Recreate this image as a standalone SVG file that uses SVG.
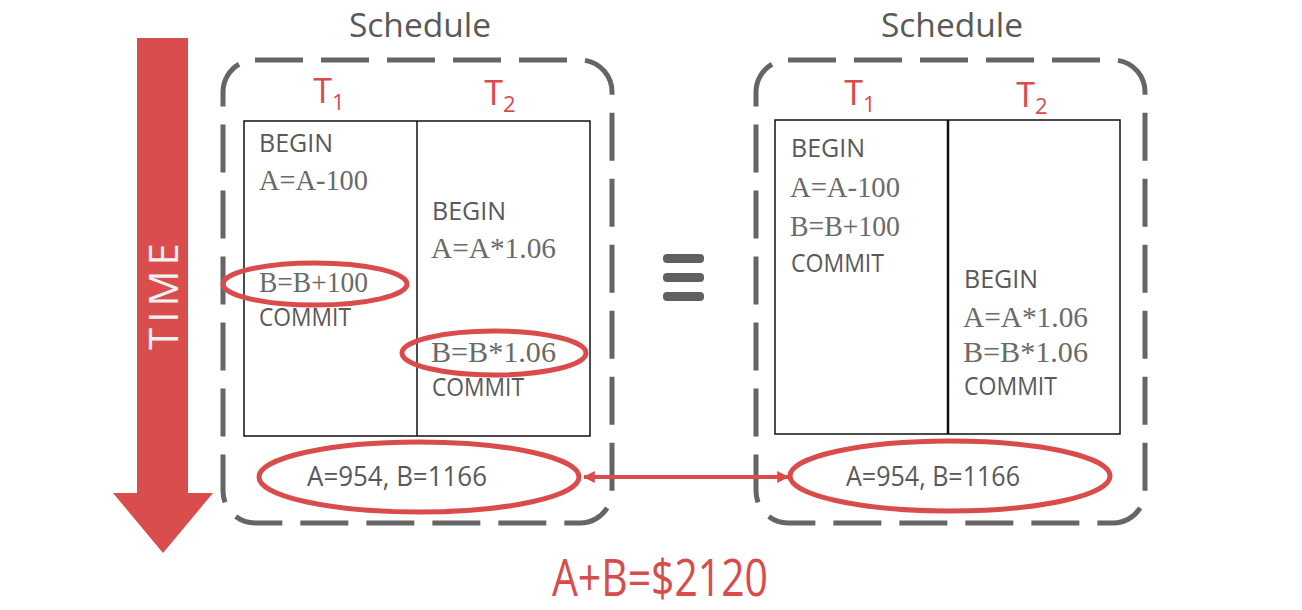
<svg xmlns="http://www.w3.org/2000/svg" width="1302" height="610" viewBox="0 0 1302 610">
<defs>
<style>
.sched{fill:none;stroke:#656565;stroke-width:5;stroke-dasharray:48 18}
.tbl{fill:#fff;stroke:#111;stroke-width:1.5}
.div{stroke:#111;stroke-width:1.5}
.title{font-family:"Open Sans","Noto Sans",sans-serif;font-size:33.5px;fill:#595959;text-anchor:middle}
.tl{font-family:"Open Sans","Noto Sans",sans-serif;font-size:34px;fill:#dc4a49;text-anchor:middle}
.sub{font-size:22px}
.kw{font-family:"Open Sans","Noto Sans",sans-serif;font-size:25px;fill:#595959}
.op{font-family:"Liberation Serif","Times New Roman",serif;font-size:29px;fill:#6a6a6a}
.res{font-family:"Open Sans","Noto Sans",sans-serif;font-size:27px;fill:#595959}
.ring{fill:none;stroke:#d94c4b;stroke-width:5}
</style>
<marker id="ah" viewBox="0 0 10 10" refX="9" refY="5" markerWidth="3" markerHeight="3.4" orient="auto-start-reverse" markerUnits="strokeWidth">
<path d="M0,0 L10,5 L0,10 Z" fill="#d94c4b"/>
</marker>
</defs>
<rect width="1302" height="610" fill="#fff"/>

<g id="time-arrow">
<path d="M137,38 H188 V493 H213 L163,553 L113,493 H137 Z" fill="#d94e4c"/>
<text transform="translate(178,294) rotate(-90)" text-anchor="middle" font-family="Open Sans, Noto Sans, sans-serif" font-size="40" letter-spacing="5" fill="#f2f2f2">TIME</text>
</g>

<g id="schedule-left">
<text class="title" x="420" y="37">Schedule</text>
<rect class="sched" x="223" y="60" width="389" height="463" rx="32"/>
<text class="tl" x="329" y="103">T<tspan class="sub" dy="7">1</tspan></text>
<text class="tl" x="500" y="105">T<tspan class="sub" dy="7">2</tspan></text>
<rect class="tbl" x="244" y="121" width="346" height="315"/>
<line class="div" x1="417" y1="121" x2="417" y2="436"/>
<text class="kw" x="259" y="152">BEGIN</text>
<text class="op" x="259" y="190" textLength="109" lengthAdjust="spacingAndGlyphs">A=A-100</text>
<text class="op" x="259" y="292" textLength="109" lengthAdjust="spacingAndGlyphs">B=B+100</text>
<text class="kw" x="259" y="326" textLength="92" lengthAdjust="spacingAndGlyphs">COMMIT</text>
<text class="kw" x="432" y="220">BEGIN</text>
<text class="op" x="431" y="258" textLength="125" lengthAdjust="spacingAndGlyphs">A=A*1.06</text>
<text class="op" x="431" y="362" textLength="125" lengthAdjust="spacingAndGlyphs">B=B*1.06</text>
<text class="kw" x="432" y="396" textLength="92" lengthAdjust="spacingAndGlyphs">COMMIT</text>
<ellipse class="ring" cx="315" cy="284" rx="92" ry="21"/>
<ellipse class="ring" cx="494" cy="353" rx="92" ry="22"/>
<ellipse class="ring" cx="419" cy="477" rx="160" ry="35"/>
<text class="res" x="397" y="486" text-anchor="middle" textLength="180" lengthAdjust="spacingAndGlyphs">A=954, B=1166</text>
</g>

<g id="equivalent">
<rect x="663" y="254" width="41" height="9" rx="4" fill="#606060"/>
<rect x="663" y="273" width="41" height="9" rx="4" fill="#606060"/>
<rect x="663" y="292" width="41" height="9" rx="4" fill="#606060"/>
</g>

<g id="schedule-right">
<text class="title" x="952" y="37">Schedule</text>
<rect class="sched" x="756" y="60" width="389" height="463" rx="32"/>
<text class="tl" x="860" y="105">T<tspan class="sub" dy="7">1</tspan></text>
<text class="tl" x="1032" y="107">T<tspan class="sub" dy="7">2</tspan></text>
<rect class="tbl" x="775" y="120" width="345" height="314"/>
<line x1="948" y1="120" x2="948" y2="434" stroke="#111" stroke-width="2.5"/>
<text class="kw" x="791" y="157">BEGIN</text>
<text class="op" x="790" y="197" textLength="110" lengthAdjust="spacingAndGlyphs">A=A-100</text>
<text class="op" x="790" y="236" textLength="110" lengthAdjust="spacingAndGlyphs">B=B+100</text>
<text class="kw" x="791" y="272" textLength="93" lengthAdjust="spacingAndGlyphs">COMMIT</text>
<text class="kw" x="964" y="288">BEGIN</text>
<text class="op" x="963" y="327" textLength="125" lengthAdjust="spacingAndGlyphs">A=A*1.06</text>
<text class="op" x="963" y="362" textLength="125" lengthAdjust="spacingAndGlyphs">B=B*1.06</text>
<text class="kw" x="964" y="395" textLength="93" lengthAdjust="spacingAndGlyphs">COMMIT</text>
<ellipse class="ring" cx="950" cy="476" rx="160" ry="35"/>
<text class="res" x="933" y="486" text-anchor="middle" textLength="174" lengthAdjust="spacingAndGlyphs">A=954, B=1166</text>
</g>

<g id="connectors">
<line x1="584" y1="477" x2="788" y2="477" stroke="#d94c4b" stroke-width="4" marker-start="url(#ah)" marker-end="url(#ah)"/>
</g>

<g id="total">
<text x="660" y="596" text-anchor="middle" font-family="Open Sans, Noto Sans, sans-serif" font-size="52" fill="#d94c4b" textLength="216" lengthAdjust="spacingAndGlyphs">A+B=$2120</text>
</g>
</svg>
